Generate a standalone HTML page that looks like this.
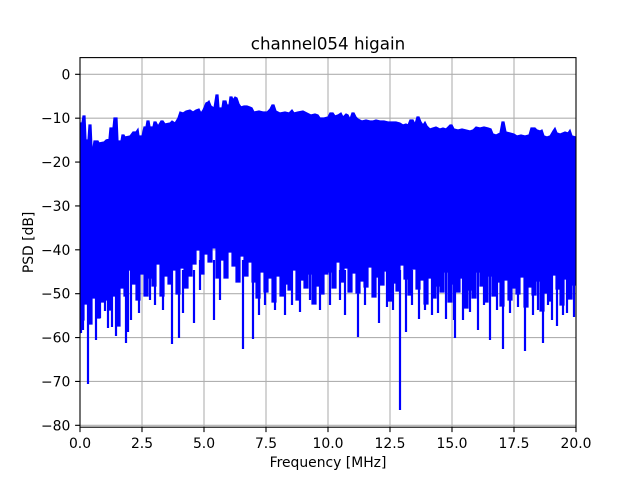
<!DOCTYPE html>
<html>
<head>
<meta charset="utf-8">
<style>
  html, body { margin: 0; padding: 0; background: #ffffff; }
  svg { display: block; }
  text { font-family: "DejaVu Sans", "Liberation Sans", sans-serif; fill: #000; }
</style>
</head>
<body>
<svg width="640" height="480" viewBox="0 0 640 480" xmlns="http://www.w3.org/2000/svg">
  <rect x="0" y="0" width="640" height="480" fill="#ffffff"/>
  <defs>
    <clipPath id="ax">
      <rect x="80" y="57.6" width="496" height="369.6"/>
    </clipPath>
  </defs>

  <!-- grid -->
  <g stroke="#b0b0b0" stroke-width="1.1" fill="none">
    <path d="M142 57.6V427.2 M204 57.6V427.2 M266 57.6V427.2 M328 57.6V427.2 M390 57.6V427.2 M452 57.6V427.2 M514 57.6V427.2"/>
    <path d="M80 74.3H576 M80 118.2H576 M80 162.1H576 M80 205.9H576 M80 249.8H576 M80 293.7H576 M80 337.6H576 M80 381.4H576 M80 425.3H576"/>
  </g>

  <!-- data -->
  <g clip-path="url(#ax)">
    <path fill="#0000ff" stroke="#0000ff" stroke-width="1.2" stroke-linejoin="miter"
      d="M80,123 L82,123 83,116 85,116 86,140 88,140 89,125 91,125 92,148 93,148 94,141 98,141 99,143 104,142 106,140 109,139 110,128 113,128 114,118 117,118 118,141 121,141 122,135 124,135 125,137 130,136 133,132 136,132 138,129 139,136 142,136 144,127 146,127 147,121 149,121 150,127 153,127 154,122 156,122 158,126 161,121 163,121 165,124 170,123 172,121 175,123 178,118 180,112 183,113 186,111 190,110 193,112 196,110 199,109 201,113 203,110 206,103 208,102 209,101 211,106 214,108 216,95 218,95 219,108 222,108 223,101 226,101 227,105 229,105 230,97 232,97 233,100 235,97 237,98 239,104 241,107 244,106 247,106 250,107 252,108 254,112 259,111 263,112 267,112 270,109 272,105 274,105 276,111 280,113 285,112 289,113 292,110 294,113 298,112 303,111 307,113 311,115 315,114 318,115 320,118 324,118 328,117 330,113 333,113 335,116 338,115 341,113 343,117 346,114 348,115 350,119 352,113 354,113 356,117 358,119 362,121 366,120 370,121 373,121 376,120 380,121 384,121 388,122 392,122 396,122 400,123 403,125 406,124 408,125 410,120 413,120 415,124 417,117 419,117 421,122 423,125 425,122 427,126 430,129 433,128 436,127 440,129 443,128 446,129 448,127 450,125 452,125 454,129 458,130 462,129 466,130 470,131 473,130 476,127 480,128 484,127 488,128 491,129 493,134 496,135 500,133 502,122 504,122 506,132 510,133 514,134 517,136 521,135 525,136 529,135 531,128 535,128 537,130 540,131 542,130 544,136 547,137 550,136 553,131 555,128 557,133 560,134 565,132 568,133 570,130 572,136 576,137
      V285 H572 V299 H568 V279 H564 V305 H560 V289 H556 V275 H552 V301 H548 V293 H544 V311 H540 V281 H536 V295 H532 V287 H528 V307 H524 V277 H520 V294 H516 V288 H512 V300 H508 V280 H504 V306 H500 V282 H496 V296 H492 V276 H488 V302 H484 V286 H480 V272 H476 V298 H472 V290 H468 V308 H464 V278 H460 V292 H456 V284 H452 V302 H448 V272 H444 V292 H440 V286 H436 V298 H432 V278 H428 V304 H424 V280 H420 V289 H416 V269 H412 V295 H408 V279 H404 V265 H400 V291 H396 V283 H392 V301 H388 V271 H384 V285 H380 V277 H376 V297 H372 V267 H368 V287 H364 V281 H360 V293 H356 V273 H352 V292 H348 V268 H344 V282 H340 V262 H336 V288 H332 V272 H328 V274 H324 V294 H320 V286 H316 V304 H312 V274 H308 V288 H304 V280 H300 V300 H296 V270 H292 V290 H288 V284 H284 V296 H280 V276 H276 V302 H272 V278 H268 V292 H264 V272 H260 V298 H256 V282 H252 V262 H248 V276 H244 V256 H240 V282 H236 V266 H232 V252 H228 V278 H224 V260 H220 V278 H216 V248 H212 V262 H208 V254 H204 V274 H200 V250 H196 V264 H192 V276 H188 V288 H184 V268 H180 V294 H176 V270 H172 V284 H168 V276 H164 V296 H160 V264 H156 V286 H152 V278 H148 V296 H144 V274 H140 V300 H136 V284 H132 V270 H128 V296 H124 V288 H120 V326 H116 V296 H112 V310 H108 V300 H104 V302 H100 V318 H96 V298 H92 V324 H88 V304 H84 V320 H80 V334 Z"/>
    <path fill="none" stroke="#0000ff" stroke-width="2.2"
      d="M81 270V333 M83 270V330 M88 270V384 M91 270V320 M96 270V340 M100 270V318 M105 270V311 M108 270V328 M112 270V327 M116 270V336 M126 270V343 M128 270V332 M131 270V320 M139 270V313 M150 270V300 M155 270V305 M163 270V310 M172 270V344 M179 270V338 M183 270V313 M194 270V323 M200 260V290 M214 260V320 M220 260V300 M243 260V349 M253 260V339 M259 260V315 M265 270V305 M275 270V310 M285 270V315 M292 270V305 M300 270V312 M310 270V300 M320 270V310 M330 270V305 M340 270V300 M345 270V315 M358 270V337 M365 270V305 M379 270V323 M387 270V307 M393 270V310 M400 270V410 M406 270V332 M412 270V305 M419 270V319 M425 270V310 M432 270V315 M438 270V313 M446 270V319 M454 270V320 M455 270V338 M463 270V320 M470 270V312 M478 270V330 M484 270V305 M490 270V340 M497 270V310 M503 270V349 M510 270V313 M518 270V307 M525 270V351 M533 270V315 M538 270V310 M543 270V343 M548 270V305 M552 270V320 M557 270V326 M563 270V315 M567 270V313 M574 270V317"/>
  </g>

  <!-- spines -->
  <rect x="80" y="57.6" width="496" height="369.6" fill="none" stroke="#000" stroke-width="1.1"/>

  <!-- ticks -->
  <g stroke="#000" stroke-width="1.1">
    <path d="M80 427.2v4.9 M142 427.2v4.9 M204 427.2v4.9 M266 427.2v4.9 M328 427.2v4.9 M390 427.2v4.9 M452 427.2v4.9 M514 427.2v4.9 M576 427.2v4.9"/>
    <path d="M80 74.3h-4.9 M80 118.2h-4.9 M80 162.1h-4.9 M80 205.9h-4.9 M80 249.8h-4.9 M80 293.7h-4.9 M80 337.6h-4.9 M80 381.4h-4.9 M80 425.3h-4.9"/>
  </g>

  <!-- x tick labels -->
  <g font-size="13.9" text-anchor="middle">
    <text x="80" y="448">0.0</text>
    <text x="142" y="448">2.5</text>
    <text x="204" y="448">5.0</text>
    <text x="266" y="448">7.5</text>
    <text x="328" y="448">10.0</text>
    <text x="390" y="448">12.5</text>
    <text x="452" y="448">15.0</text>
    <text x="514" y="448">17.5</text>
    <text x="576" y="448">20.0</text>
  </g>

  <!-- y tick labels -->
  <g font-size="13.9" text-anchor="end">
    <text x="70.3" y="79.3">0</text>
    <text x="70.3" y="123.2">−10</text>
    <text x="70.3" y="167.1">−20</text>
    <text x="70.3" y="210.9">−30</text>
    <text x="70.3" y="254.8">−40</text>
    <text x="70.3" y="298.7">−50</text>
    <text x="70.3" y="342.6">−60</text>
    <text x="70.3" y="386.4">−70</text>
    <text x="70.3" y="430.3">−80</text>
  </g>

  <!-- labels -->
  <text x="328" y="467" font-size="13.9" text-anchor="middle">Frequency [MHz]</text>
  <text x="0" y="0" font-size="13.9" text-anchor="middle" transform="translate(33,242.4) rotate(-90)">PSD [dB]</text>
  <text x="328" y="49.3" font-size="16.7" text-anchor="middle">channel054 higain</text>
</svg>
</body>
</html>
